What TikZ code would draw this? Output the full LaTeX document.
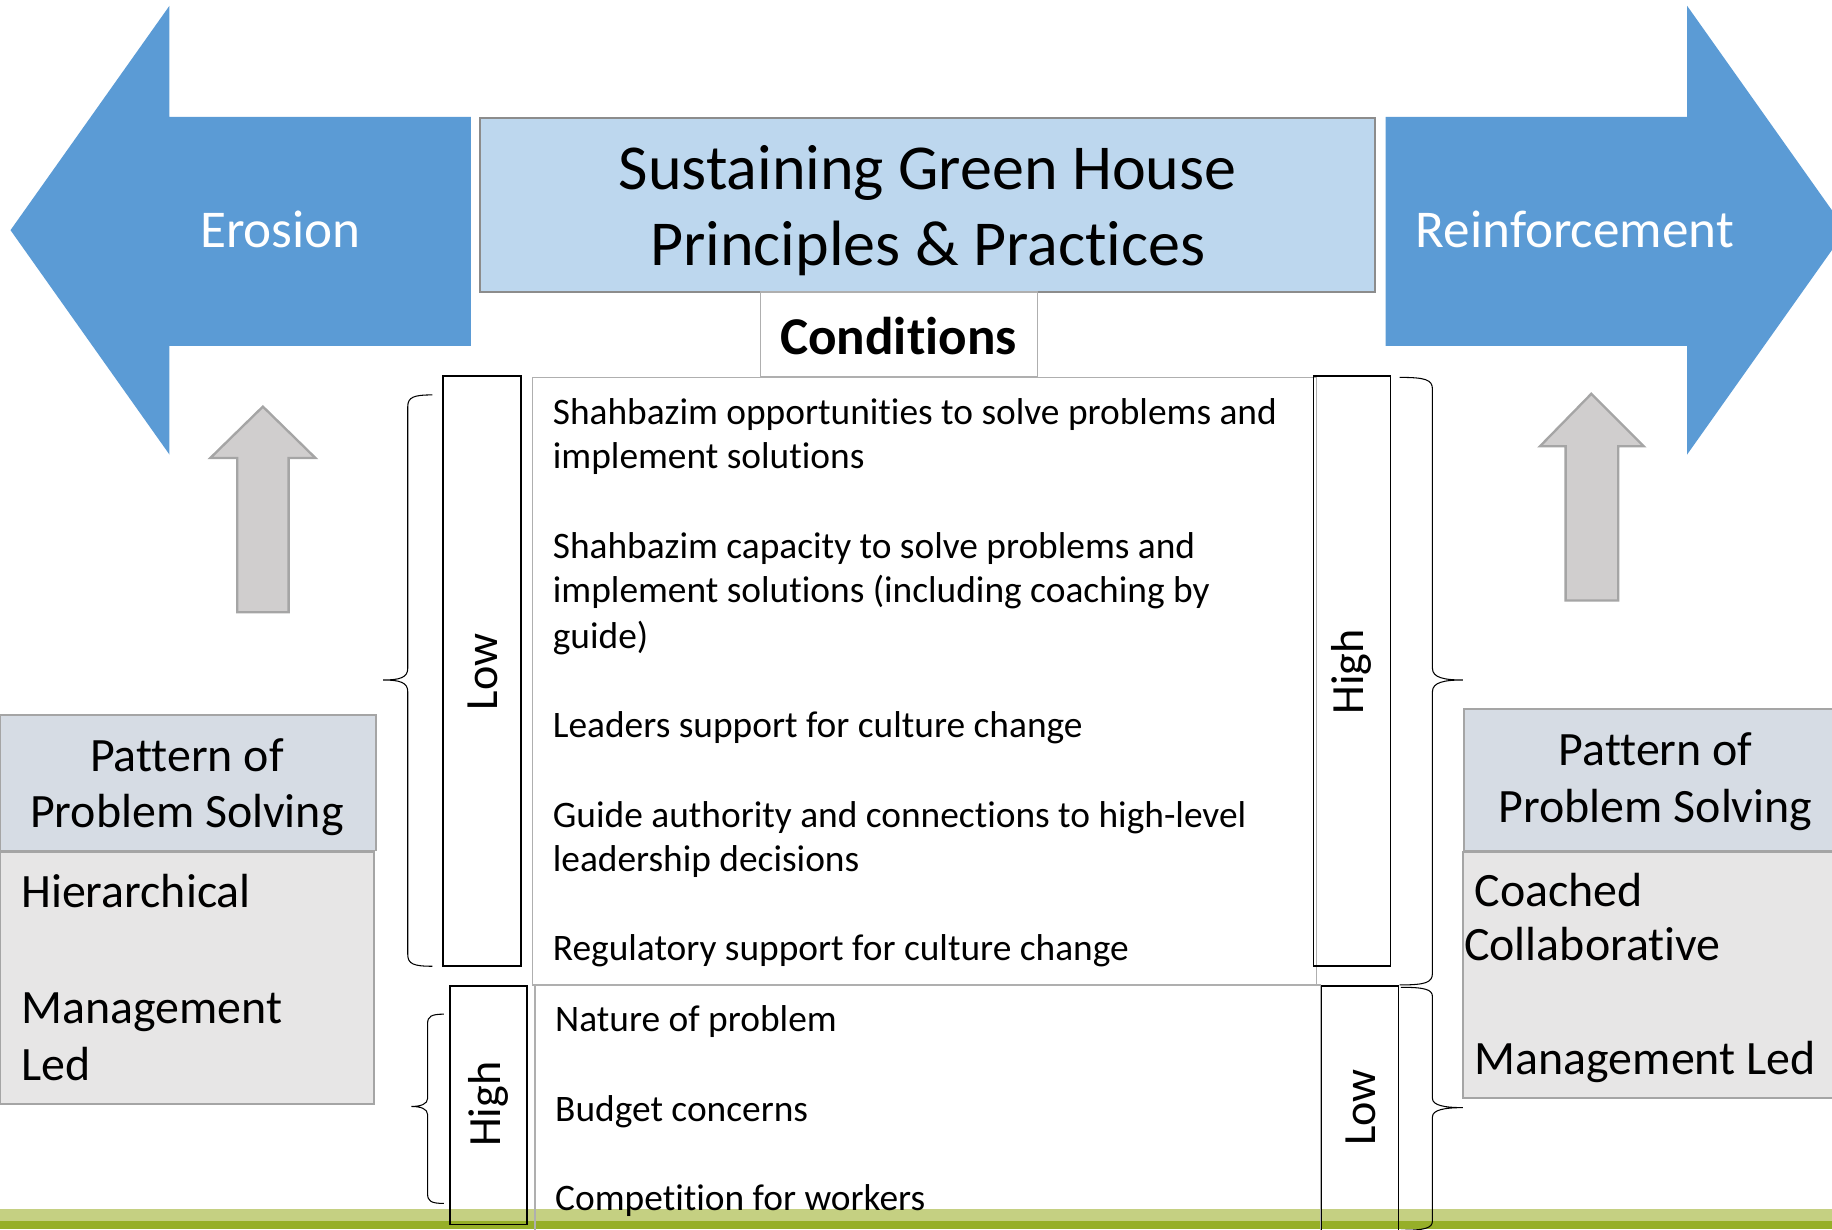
\documentclass[tikz,border=0pt]{standalone}
\usepackage{fontspec}
\setmainfont{Carlito}[Ligatures={NoCommon}]
\definecolor{arrowblue}{HTML}{5B9BD5}
\definecolor{titlefill}{HTML}{BDD7EE}
\definecolor{headfill}{HTML}{D6DCE4}
\definecolor{bodyfill}{HTML}{E7E6E6}
\definecolor{grayarrow}{HTML}{D0CECE}
\definecolor{grayedge}{HTML}{A5A5A5}
\definecolor{boxedge}{HTML}{8C8C8C}
\definecolor{barlight}{HTML}{C5D082}
\definecolor{bardark}{HTML}{96AF28}
\begin{document}
\begin{tikzpicture}[x=1pt,y=-1pt,
  txt/.style={anchor=base west,inner sep=0pt,font=\fontsize{32}{38}\selectfont},
  big/.style={font=\fontsize{41}{49}\selectfont,inner sep=0pt},
  side/.style={rotate=90,inner sep=0pt,font=\fontsize{39.5}{44}\selectfont},
  lvlbox/.style={draw=black,line width=1.3pt},
  framebox/.style={draw=boxedge!70,line width=1.2pt},
  brace/.style={draw=black,line width=0.9pt},
  uparrow/.style={fill=grayarrow,draw=grayedge,line width=2pt}]
\useasboundingbox (0,0) rectangle (1568,1052);
% green bar
\fill[barlight] (0,1035) rectangle (1568,1045);
\fill[bardark] (0,1045) rectangle (1568,1052);
% blue arrows
\fill[arrowblue] (9,197) -- (145,5) -- (145,100) -- (403,100) -- (403,296) -- (145,296) -- (145,389) -- cycle;
\fill[arrowblue] (1186,100) -- (1444,100) -- (1444,5) -- (1580,197) -- (1444,389) -- (1444,296) -- (1186,296) -- cycle;
\node[text=white,font=\fontsize{45.5}{52}\selectfont,inner sep=0pt,anchor=base] (ero) at (240,212) {Erosion};
\node[text=white,font=\fontsize{45.5}{52}\selectfont,inner sep=0pt,anchor=base] (rein) at (1348,212) {Reinforcement};
% title
\draw[fill=titlefill,draw=boxedge,line width=1.5pt] (411,101) rectangle (1177,250);
\node[font=\fontsize{54.8}{65}\selectfont,inner sep=0pt,anchor=base] (t1) at (794,162) {Sustaining Green House};
\node[font=\fontsize{54.8}{65}\selectfont,inner sep=0pt,anchor=base] (t2) at (794,227) {Principles \& Practices};
% conditions
\draw[framebox] (651,250) rectangle (888,322);
\node[font=\fontsize{45.5}{50}\selectfont\bfseries,inner sep=0pt,anchor=base] (cond) at (769,303) {Conditions};
% gray up arrows
\draw[uparrow] (225,348) -- (270,392) -- (247,392) -- (247,524) -- (203,524) -- (203,392) -- (180,392) -- cycle;
\draw[uparrow] (1362,337) -- (1407,382) -- (1385,382) -- (1385,514) -- (1340,514) -- (1340,382) -- (1318,382) -- cycle;
% main condition boxes
\draw[framebox] (456,323) rectangle (1127,843);
\draw[framebox] (458,843) -- (458,1060);
\draw[framebox] (458,843) -- (1130,843) -- (1130,1060);
% level boxes
\draw[lvlbox] (379,322) rectangle (446,827);
\draw[lvlbox] (1124,322) rectangle (1190,827);
\draw[lvlbox] (385,844) rectangle (451,1048);
\draw[lvlbox] (1131,1060) -- (1131,844) -- (1197,844) -- (1197,1060);
\node[side] (low1) at (413,575) {Low};
\node[side] (high1) at (1157,575) {High};
\node[side] (high2) at (418,945) {High};
\node[side] (low2) at (1165,948) {Low};
% braces
\draw[brace] (370,338) .. controls (354,338) and (349,340) .. (349,348) -- (349,572) .. controls (349,580) and (342,582) .. (328,582) .. controls (342,582) and (349,584) .. (349,592) -- (349,817) .. controls (349,825) and (354,827) .. (370,827);
\draw[brace] (1198,323) .. controls (1220,323) and (1226,325) .. (1226,333) -- (1226,572) .. controls (1226,580) and (1236,582) .. (1252,582) .. controls (1236,582) and (1226,584) .. (1226,592) -- (1226,833) .. controls (1226,841) and (1220,843) .. (1198,843);
\draw[brace] (380,868) .. controls (369,868) and (366,870) .. (366,876) -- (366,940) .. controls (366,945) and (360,947) .. (352,947) .. controls (360,947) and (366,949) .. (366,954) -- (366,1022) .. controls (366,1028) and (369,1030) .. (380,1030);
\draw[brace] (1199,845) .. controls (1220,845) and (1226,847) .. (1226,853) -- (1226,940) .. controls (1226,946) and (1236,948) .. (1252,948) .. controls (1236,948) and (1226,950) .. (1226,956) -- (1226,1045) .. controls (1226,1051) and (1220,1053) .. (1199,1053);
% condition texts
\node[txt] (c1a) at (473,363) {Shahbazim opportunities to solve problems and};
\node[txt] (c1b) at (473,401) {implement solutions};
\node[txt] (c2a) at (473,478) {Shahbazim capacity to solve problems and};
\node[txt] (c2b) at (473,516) {implement solutions (including coaching by};
\node[txt] (c2c) at (473,555) {guide)};
\node[txt] (c3) at (473,631) {Leaders support for culture change};
\node[txt] (c4a) at (473,708) {Guide authority and connections to high-level};
\node[txt] (c4b) at (473,746) {leadership decisions};
\node[txt] (c5) at (473,822) {Regulatory support for culture change};
\node[txt] (d1) at (475,883) {Nature of problem};
\node[txt] (d2) at (475,960) {Budget concerns};
\node[txt] (d3) at (475,1036) {Competition for workers};
% left pattern
\draw[fill=headfill,draw=grayedge,line width=1.5pt] (0,612) rectangle (322,728);
\draw[fill=bodyfill,draw=grayedge,line width=1.5pt] (0,729) rectangle (320,945);
\node[big,anchor=base] (lp1) at (160,660) {Pattern of};
\node[big,anchor=base] (lp2) at (160,708) {Problem Solving};
\node[big,anchor=base west] (lb1) at (18,777) {Hierarchical};
\node[big,anchor=base west] (lb2) at (18,876) {Management};
\node[big,anchor=base west] (lb3) at (18,925) {Led};
% right pattern
\draw[fill=headfill,draw=grayedge,line width=1.5pt] (1253,607) rectangle (1580,728);
\draw[fill=bodyfill,draw=grayedge,line width=1.5pt] (1252,729) rectangle (1580,940);
\node[big,anchor=base] (rp1) at (1417,655) {Pattern of};
\node[big,anchor=base] (rp2) at (1417,704) {Problem Solving};
\node[big,anchor=base west] (rb1) at (1262,776) {Coached};
\node[big,anchor=base west] (rb2) at (1253,822) {Collaborative};
\node[big,anchor=base west] (rb3) at (1262,920) {Management Led};
\end{tikzpicture}
\end{document}
